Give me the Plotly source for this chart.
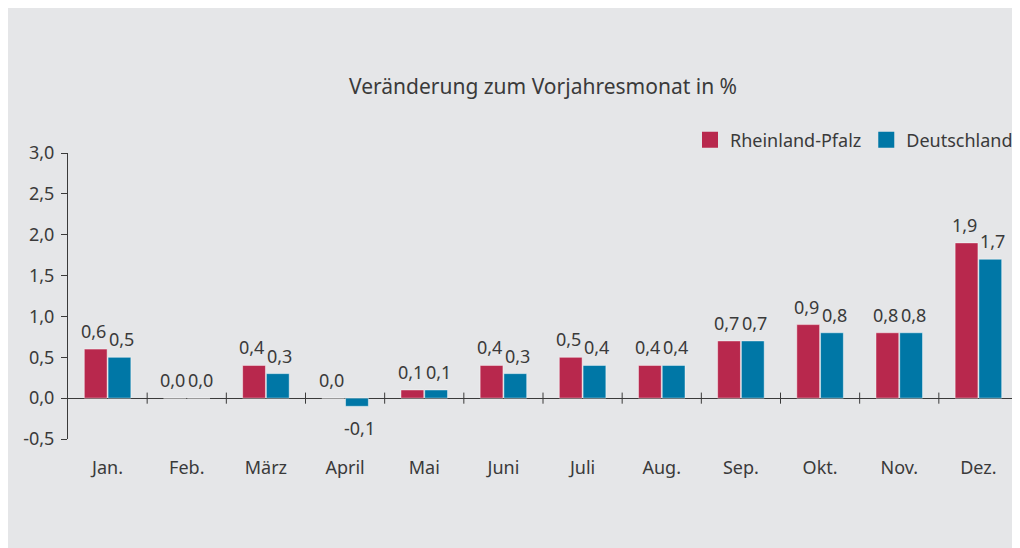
import plotly.graph_objects as go

months = ["Jan.", "Feb.", "März", "April", "Mai", "Juni", "Juli", "Aug.", "Sep.", "Okt.", "Nov.", "Dez."]
rlp = [0.6, 0.0, 0.4, 0.0, 0.1, 0.4, 0.5, 0.4, 0.7, 0.9, 0.8, 1.9]
de = [0.5, 0.0, 0.3, -0.1, 0.1, 0.3, 0.4, 0.4, 0.7, 0.8, 0.8, 1.7]
ytick_vals = [-0.5, 0.0, 0.5, 1.0, 1.5, 2.0, 2.5, 3.0]
title = "Veränderung zum Vorjahresmonat in %"

RED = "#b8284d"
BLUE = "#0077a6"
BG = "#e5e6e8"
DARK = "#3a3a3a"
FONT = "Noto Sans"


def fmt(v):
    return f"{v:.1f}".replace(".", ",")


fig = go.Figure()
annotations = []
for name, vals, col, side in [("Rheinland-Pfalz", rlp, RED, -1), ("Deutschland", de, BLUE, 1)]:
    fig.add_trace(go.Bar(
        x=months, y=vals, name=name, showlegend=False,
        marker=dict(color=col, line=dict(color="rgba(255,255,255,0.45)", width=1)),
    ))
    fig.add_trace(go.Scatter(
        x=[None], y=[None], mode="markers", name=name,
        marker=dict(symbol="square", size=16, color=col),
    ))
    for m, v in zip(months, vals):
        annotations.append(dict(
            x=m, y=v, xref="x", yref="y", text=fmt(v), showarrow=False,
            xshift=side * 14, yshift=4 if v >= 0 else -8,
            yanchor="bottom" if v >= 0 else "top",
            font=dict(size=18, color=DARK, family=FONT),
        ))

shapes = []
for i in range(len(months)):
    shapes.append(dict(type="line", xref="x", yref="y",
                       x0=i + 0.5, x1=i + 0.5, y0=-0.068, y1=0.068,
                       line=dict(color=DARK, width=1)))

fig.update_layout(
    width=1012, height=540,
    margin=dict(l=60, r=2, t=145, b=109),
    paper_bgcolor=BG, plot_bgcolor="rgba(0,0,0,0)",
    font=dict(family=FONT, size=18, color=DARK),
    barmode="group", bargap=0.4, bargroupgap=0.04,
    title=dict(text=title, x=0.5, xref="paper", xanchor="center",
               y=1 - 79 / 540, yref="container", yanchor="middle",
               font=dict(size=21, color=DARK, family=FONT)),
    legend=dict(orientation="h", x=1.0, xanchor="right", y=1.045, yanchor="middle",
                bgcolor="rgba(0,0,0,0)", font=dict(size=18, color=DARK),
                itemwidth=30, tracegroupgap=0),
    shapes=shapes,
    annotations=annotations,
    xaxis=dict(showline=False, ticks="", showgrid=False, zeroline=False,
               range=[-0.5, len(months) - 0.5], ticklabelstandoff=16),
    yaxis=dict(range=[-0.5, 3.0], tickvals=ytick_vals, ticktext=[fmt(v) for v in ytick_vals],
               showline=True, linecolor=DARK, linewidth=1, ticks="outside", ticklen=6,
               tickcolor=DARK, showgrid=False, zeroline=True, zerolinecolor=DARK,
               zerolinewidth=1, ticklabelstandoff=3),
)

fig.write_html("out.html")
